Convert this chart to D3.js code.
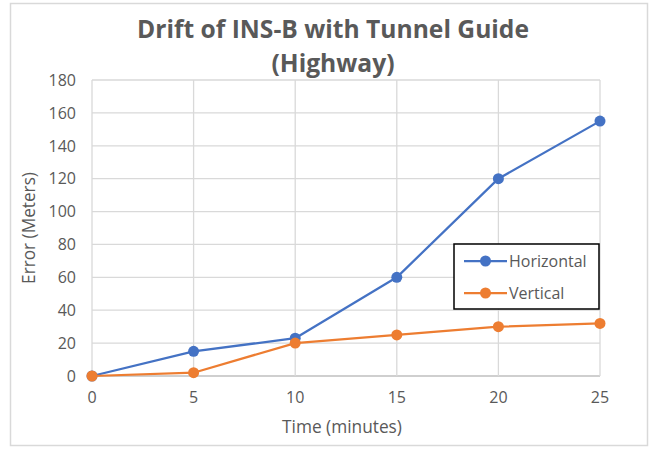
<!DOCTYPE html>
<html><head><meta charset="utf-8">
<script src="https://cdn.jsdelivr.net/npm/d3@7/dist/d3.min.js"></script>
<style>body{margin:0;background:#fff}</style>
</head><body>
<svg id="c" width="658" height="449"></svg>
<script>
const times = [0, 5, 10, 15, 20, 25];
const horizontal = [0, 15, 23, 60, 120, 155];
const vertical = [0, 2, 20, 25, 30, 32];
const yTicks = [0, 20, 40, 60, 80, 100, 120, 140, 160, 180];
const xTicks = [0, 5, 10, 15, 20, 25];
const seriesNames = ["Horizontal", "Vertical"];
const colors = ["#4472c4", "#ed7d31"];

const svg = d3.select("#c");
const font = "'Open Sans', Calibri, sans-serif";
function fit(sel, w) {
  const m = sel.node().getComputedTextLength();
  const fs = parseFloat(sel.attr("font-size"));
  sel.attr("font-size", fs * w / m);
  return sel;
}
svg.append("rect").attr("x", 10.5).attr("y", 3.5).attr("width", 637).attr("height", 442)
  .attr("fill", "#fff").attr("stroke", "#d9d9d9").attr("stroke-width", 1.5);

const x = d3.scaleLinear().domain([0, 25]).range([92, 600]);
const y = d3.scaleLinear().domain([0, 180]).range([376, 80]);

const g = svg.append("g");
g.selectAll("line.h").data(yTicks).join("line")
  .attr("x1", x(0)).attr("x2", x(25)).attr("y1", d => y(d)).attr("y2", d => y(d))
  .attr("stroke", d => d === 0 ? "#bfbfbf" : "#d9d9d9").attr("stroke-width", 1.3);
g.selectAll("line.v").data(xTicks).join("line")
  .attr("y1", y(0)).attr("y2", y(180)).attr("x1", d => x(d)).attr("x2", d => x(d))
  .attr("stroke", "#d9d9d9").attr("stroke-width", 1.3);

g.selectAll("text.y").data(yTicks).join("text")
  .attr("x", 76).attr("y", d => y(d)).attr("dy", "0.36em").attr("text-anchor", "end")
  .attr("font-family", font).attr("font-size", 16).attr("fill", "#595959").text(d => d);
g.selectAll("text.x").data(xTicks).join("text")
  .attr("x", d => x(d)).attr("y", 403).attr("text-anchor", "middle")
  .attr("font-family", font).attr("font-size", 16).attr("fill", "#595959").text(d => d);

fit(svg.append("text").attr("x", 342).attr("y", 433).attr("text-anchor", "middle")
  .attr("font-family", font).attr("font-size", 16).attr("fill", "#595959").text("Time (minutes)"), 120);
fit(svg.append("text").attr("transform", "translate(35,228) rotate(-90)").attr("text-anchor", "middle")
  .attr("font-family", font).attr("font-size", 16).attr("fill", "#595959").text("Error (Meters)"), 112);

const t1 = fit(svg.append("text").attr("x", 333).attr("y", 38).attr("text-anchor", "middle")
  .attr("font-family", font).attr("font-size", 22).attr("font-weight", "bold").attr("fill", "#595959")
  .text("Drift of INS-B with Tunnel Guide"), 392);
svg.append("text").attr("x", 333).attr("y", 72).attr("text-anchor", "middle")
  .attr("font-family", font).attr("font-size", t1.attr("font-size")).attr("font-weight", "bold").attr("fill", "#595959")
  .text("(Highway)");

const line = d3.line().x((d, i) => x(times[i])).y(d => y(d));
[horizontal, vertical].forEach((s, k) => {
  svg.append("path").datum(s).attr("d", line).attr("fill", "none")
    .attr("stroke", colors[k]).attr("stroke-width", 2.25).attr("stroke-linejoin", "round");
  svg.selectAll(null).data(s).join("circle")
    .attr("cx", (d, i) => x(times[i])).attr("cy", d => y(d)).attr("r", 5.5).attr("fill", colors[k]);
});

const lg = svg.append("g");
lg.append("rect").attr("x", 454).attr("y", 244).attr("width", 145).attr("height", 65)
  .attr("fill", "#fff").attr("stroke", "#000").attr("stroke-width", 1.5);
seriesNames.forEach((n, k) => {
  const yy = 261 + k * 32;
  lg.append("line").attr("x1", 464).attr("x2", 507).attr("y1", yy).attr("y2", yy)
    .attr("stroke", colors[k]).attr("stroke-width", 2.25);
  lg.append("circle").attr("cx", 485.5).attr("cy", yy).attr("r", 5.5).attr("fill", colors[k]);
  lg.append("text").attr("x", 509).attr("y", yy).attr("dy", "0.36em")
    .attr("font-family", font).attr("font-size", 16).attr("fill", "#595959").text(n);
});
</script>
</body></html>
